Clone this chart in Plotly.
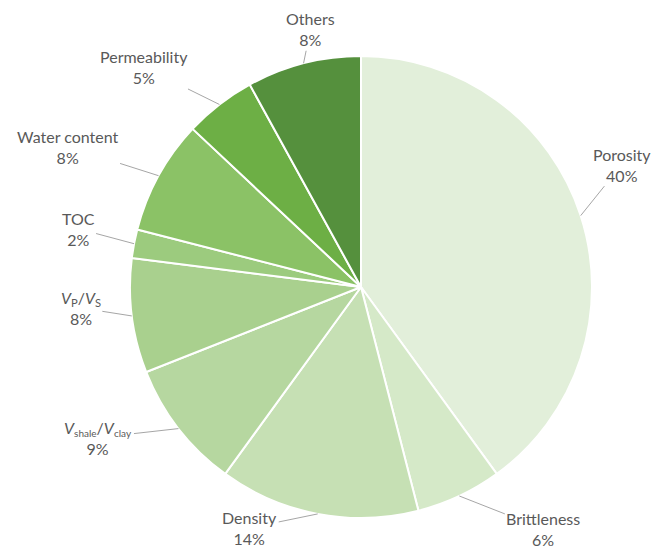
import math
import plotly.graph_objects as go

labels = ["Porosity", "Brittleness", "Density", "Vshale/Vclay", "Vp/Vs",
          "TOC", "Water content", "Permeability", "Others"]
label_html = ["Porosity", "Brittleness", "Density",
              "<i>V</i><sub><span style='font-size:10px'>shale</span></sub>/<i>V</i><sub><span style='font-size:10px'>clay</span></sub>",
              "<i>V</i><sub>P</sub>/<i>V</i><sub>S</sub>",
              "TOC", "Water content", "Permeability", "Others"]
values = [40, 6, 14, 9, 8, 2, 8, 5, 8]
colors = ["#e2efda", "#d5e9c8", "#c6e0b4", "#b6d7a0", "#a9d08e",
          "#9ccb7e", "#8bc266", "#6daf45", "#55903d"]

# label offsets (pixels) from the slice edge to the label centre
label_dx = [41, 84, -68, -80, -51, -56, -91, -75, 7]
label_dy = [-51, 33, 14, 9, -8, -15, -29, -37, -34]

W, H = 666, 548
cx, cy, R = 361, 287, 231

fig = go.Figure(go.Pie(
    labels=labels, values=values, sort=False, direction="clockwise",
    rotation=0, textinfo="none", hoverinfo="skip",
    marker=dict(colors=colors, line=dict(color="white", width=2)),
    domain=dict(x=[(cx - R) / W, (cx + R) / W], y=[1 - (cy + R) / H, 1 - (cy - R) / H]),
    showlegend=False,
))

total = sum(values)
cum = 0
annotations = []
for i, v in enumerate(values):
    mid = (cum + v / 2) / total * 2 * math.pi
    cum += v
    px = cx + R * math.sin(mid)
    py = cy - R * math.cos(mid)
    annotations.append(dict(
        x=px / W, y=1 - py / H, xref="paper", yref="paper",
        text=f"{label_html[i]}<br>{round(v / total * 100)}%",
        showarrow=True, arrowhead=0, arrowwidth=1, arrowcolor="#a6a6a6",
        ax=label_dx[i], ay=label_dy[i], standoff=0, startstandoff=0,
        font=dict(family="Lato, Open Sans, sans-serif", size=16, color="#595959"),
        align="center",
    ))

fig.update_layout(
    width=W, height=H, margin=dict(l=0, r=0, t=0, b=0),
    paper_bgcolor="white", plot_bgcolor="white",
    annotations=annotations,
)
fig.write_html("out.html", config={"displayModeBar": False},
               post_script="document.body.style.margin='0';")
